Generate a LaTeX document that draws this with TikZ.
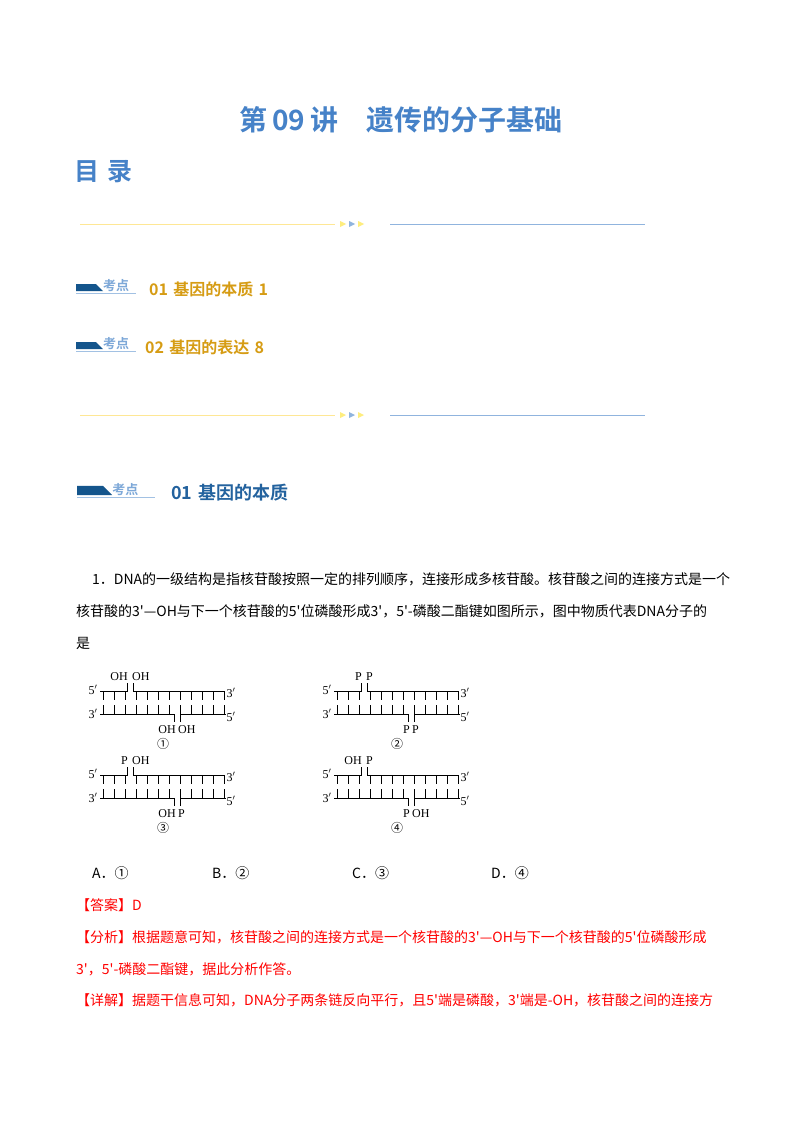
\documentclass[tikz,border=0pt]{standalone}
\usepackage{fontspec}
\setmainfont{Liberation Serif}
\newfontfamily\cjk{Noto Sans CJK SC}
\newfontfamily\cjkb{Noto Sans CJK SC Bold}
\begin{document}
\begin{tikzpicture}[x=1pt,y=-1pt,
  t/.style={inner sep=0pt,anchor=west,font=\cjk\fontsize{14}{14}\selectfont},
  red/.style={t,text=red},
  lab/.style={inner sep=0pt,font=\fontsize{12}{12}\selectfont},
  strand/.style={line width=0.9pt}]
\useasboundingbox (0,0) rectangle (800,1132);
\fill[white] (0,0) rectangle (800,1132);
\definecolor{tblue}{RGB}{70,130,200}
\definecolor{tgold}{RGB}{214,156,20}
\definecolor{dblue}{RGB}{20,85,140}
\node[inner sep=0pt,text=tblue,font=\cjkb\fontsize{28}{28}\selectfont] (title) at (401,120) {第\,09\,讲\quad 遗传的分子基础};
\node[inner sep=0pt,anchor=west,text=tblue,font=\cjkb\fontsize{25}{25}\selectfont] (ml) at (74,172) {目\,\,录};
% dividers
\foreach \y in {224,415}{
  \draw[yellow!60!orange!40,line width=0.8pt] (80,\y) -- (335,\y);
  \fill[yellow!80!orange!50] (340,\y-3) -- (346,\y) -- (340,\y+3) -- cycle;
  \fill[tblue!60] (349,\y-3) -- (355,\y) -- (349,\y+3) -- cycle;
  \fill[yellow!80!orange!50] (358,\y-3) -- (364,\y) -- (358,\y+3) -- cycle;
  \draw[tblue!60,line width=0.8pt] (390,\y) -- (645,\y);
}
% badges
\foreach \x/\y/\s in {76/291/1,76/349/1,77/495/1.3}{
  \begin{scope}[shift={(\x,\y)},scale=\s]
  \fill[dblue] (0,-7) -- (20,-7) -- (27,0) -- (0,0) -- cycle;
  \draw[tblue!50,line width=0.7pt] (0,2) -- (60,2);
  \node[inner sep=0pt,anchor=south west,text=tblue!70,font=\cjkb\fontsize{13}{13}\selectfont] at (27,1) {考点};
  \end{scope}}
\node[inner sep=0pt,anchor=west,text=tgold,font=\cjkb\fontsize{16}{16}\selectfont] (k1) at (149,289) {01\,\,基因的本质\,\,1};
\node[inner sep=0pt,anchor=west,text=tgold,font=\cjkb\fontsize{16}{16}\selectfont] (k2) at (145,347) {02\,\,基因的表达\,\,8};
\node[inner sep=0pt,anchor=west,text=dblue!70!tblue,font=\cjkb\fontsize{18}{18}\selectfont] (s1) at (171,493) {01\,\,基因的本质};
% question
\node[t] (q1) at (92,579) {1．DNA的一级结构是指核苷酸按照一定的排列顺序，连接形成多核苷酸。核苷酸之间的连接方式是一个};
\node[t] (q2) at (76,611) {核苷酸的3'—OH与下一个核苷酸的5'位磷酸形成3'，5'-磷酸二酯键如图所示，图中物质代表DNA分子的};
\node[t] (q3) at (76,643) {是};
% DNA diagrams
\foreach \ox/\oy/\a/\b/\c/\d/\n in {0/0/OH/OH/OH/OH/①,234/0/P/P/P/P/②,0/84/P/OH/OH/P/③,234/84/OH/P/P/OH/④}{
  \begin{scope}[shift={(\ox,\oy)}]
  \node[lab] at (93,690) {5$'$};
  \node[lab] at (93,714) {3$'$};
  \node[lab] at (231,693) {3$'$};
  \node[lab] at (231,717) {5$'$};
  \draw[strand] (100,691) -- (127,691) -- (127,683);
  \draw[strand] (133,683) -- (133,691) -- (224,691);
  \draw[strand] (100,714) -- (174,714) -- (174,722);
  \draw[strand] (180,722) -- (180,714) -- (226,714);
  \foreach \i in {0,...,11}{
    \draw[strand] (103+\i*11,691) -- (103+\i*11,700);
    \draw[strand] (103+\i*11,714) -- (103+\i*11,705);}
  \node[lab,anchor=east] at (128,677) {\a};
  \node[lab,anchor=west] at (132,677) {\b};
  \node[lab,anchor=east] at (176,730) {\c};
  \node[lab,anchor=west] at (178,730) {\d};
  \node[lab,font=\cjk\fontsize{12}{12}\selectfont] at (163,744) {\n};
  \end{scope}}
\node[t] (oa) at (92,873) {A．①};
\node[t] (ob) at (212,873) {B．②};
\node[t] (oc) at (352,873) {C．③};
\node[t] (od) at (491,873) {D．④};
\node[red] (ans) at (76,905) {【答案】D};
\node[red] (f1) at (76,937) {【分析】根据题意可知，核苷酸之间的连接方式是一个核苷酸的3'—OH与下一个核苷酸的5'位磷酸形成};
\node[red] (f2) at (76,969) {3'，5'-磷酸二酯键，据此分析作答。};
\node[red] (x1) at (76,1000) {【详解】据题干信息可知，DNA分子两条链反向平行，且5'端是磷酸，3'端是-OH，核苷酸之间的连接方};
\end{tikzpicture}
\end{document}
